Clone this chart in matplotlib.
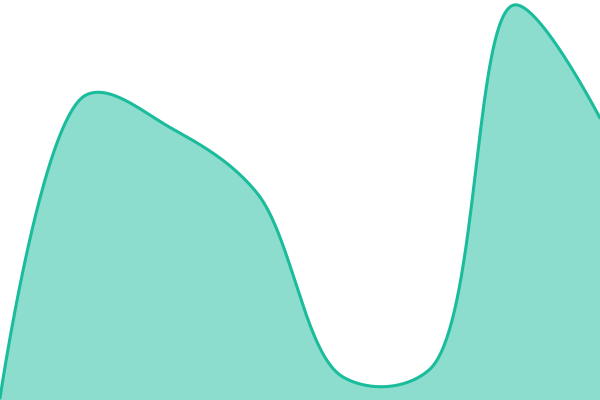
import numpy as np
import matplotlib.pyplot as plt

# knot positions (chart units 0..600 wide, 0..400 tall)
xs = [0, 86, 171, 257, 343, 429, 514, 600]
values = [2, 305, 272, 207, 23, 30, 395, 282]

line_color = '#1abc9c'


def catmull_rom(x, y, alpha=0.5, n=80):
    # centripetal Catmull-Rom drawn as cubic beziers (like d3.curveCatmullRom)
    pts = np.column_stack([x, y]).astype(float)
    ext = np.vstack([pts[0], pts, pts[-1]])
    out = []
    for i in range(len(pts) - 1):
        p0, p1, p2, p3 = ext[i], ext[i + 1], ext[i + 2], ext[i + 3]
        l01 = np.hypot(*(p1 - p0))
        l12 = np.hypot(*(p2 - p1))
        l23 = np.hypot(*(p3 - p2))
        l01a, l12a, l23a = l01**alpha, l12**alpha, l23**alpha
        l01_2a, l12_2a, l23_2a = l01**(2 * alpha), l12**(2 * alpha), l23**(2 * alpha)
        c1 = p1.copy()
        c2 = p2.copy()
        if l01a > 1e-12:
            a = 2 * l01_2a + 3 * l01a * l12a + l12_2a
            m = 3 * l01a * (l01a + l12a)
            c1 = (p1 * a - p0 * l12_2a + p2 * l01_2a) / m
        if l23a > 1e-12:
            b = 2 * l23_2a + 3 * l23a * l12a + l12_2a
            m = 3 * l23a * (l23a + l12a)
            c2 = (p2 * b + p1 * l23_2a - p3 * l12_2a) / m
        u = np.linspace(0, 1, n)[:, None]
        seg = ((1 - u)**3 * p1 + 3 * (1 - u)**2 * u * c1
               + 3 * (1 - u) * u**2 * c2 + u**3 * p2)
        out.append(seg)
    out = np.vstack(out)
    return out[:, 0], out[:, 1]


cx, cy = catmull_rom(xs, values)

fig = plt.figure(figsize=(6, 4), dpi=100)
ax = fig.add_axes([0, 0, 1, 1])
ax.fill_between(cx, 0, cy, color=line_color, alpha=0.5, lw=0)
ax.plot(cx, cy, color=line_color, lw=2.2, solid_capstyle='round')
ax.set_xlim(0, 600)
ax.set_ylim(0, 400)
ax.axis('off')
fig.savefig('out.png', dpi=100)
